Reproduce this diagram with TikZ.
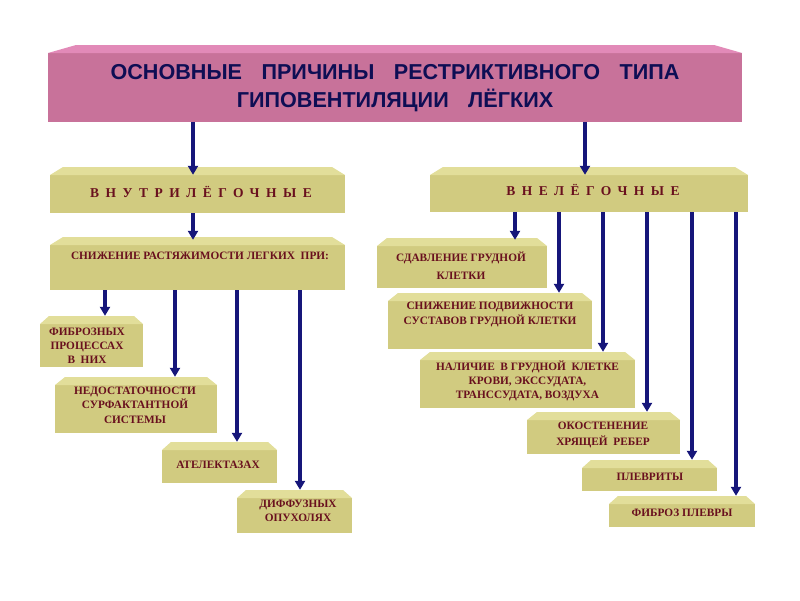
\documentclass[tikz,border=0pt]{standalone}
\usepackage{fontspec}
\setmainfont{Liberation Serif}
\newfontfamily\titlefont{Liberation Sans}
\usetikzlibrary{arrows.meta}
\definecolor{khaki}{RGB}{209,203,128}
\definecolor{khakitop}{RGB}{226,222,154}
\definecolor{rose}{RGB}{200,114,154}
\definecolor{rosetop}{RGB}{226,138,184}
\definecolor{navyc}{RGB}{22,22,122}
\definecolor{maroonc}{RGB}{105,16,30}
\definecolor{titleblue}{RGB}{14,14,84}
\newcommand\wsp{\hspace{0.9em}}
\tikzset{
  boxshape/.style={draw=none, fill=none, inner sep=0pt, rectangle},
  boxtext/.style={font=\bfseries\fontsize{11.3}{14.5}\selectfont, text=maroonc, align=center, inner sep=0pt},
  spaced/.style={font=\bfseries\fontsize{13.5}{15}\selectfont\addfontfeatures{LetterSpace=48}, text=maroonc, inner sep=0pt},
  titletext/.style={font=\titlefont\bfseries\fontsize{21.6}{28}\selectfont, text=titleblue, align=center, inner sep=0pt},
  arr/.style={draw=navyc, line width=3.1pt, -{Triangle[width=10pt,length=9pt]}},
}
% #1 name, #2 x1, #3 y1, #4 x2, #5 y2, #6 bevel width, #7 colour
\newcommand\bevbox[7]{%
  \fill[#7] (#2,#5) -- (#2,#3+8) -- (#4,#3+8) -- (#4,#5) -- cycle;
  \fill[#7top] (#2,#3+8) -- (#2+#6,#3) -- (#4-#6,#3) -- (#4,#3+8) -- cycle;
  \node[boxshape, minimum width={#4-#2}, minimum height={#5-#3}] (#1) at ({(#2+#4)/2},{(#3+#5)/2}) {};
}
\newcommand\boxlabel[5]{% #1 name, #2 x, #3 y, #4 style, #5 text
  \node[#4] (#1) at (#2,#3) {#5};
}
\begin{document}
\begin{tikzpicture}[x=1pt,y=-1pt]
\useasboundingbox[fill=white] (0,0) rectangle (800,600);

% title
\bevbox{title}{48}{45}{742}{122}{28}{rose}
\boxlabel{title-t}{395}{88.5}{titletext}{ОСНОВНЫЕ\wsp ПРИЧИНЫ\wsp РЕСТРИКТИВНОГО\wsp ТИПА\\ГИПОВЕНТИЛЯЦИИ\wsp ЛЁГКИХ}

% level 2
\bevbox{inner}{50}{167}{345}{213}{13}{khaki}
\boxlabel{inner-t}{201}{192}{spaced}{ВНУТРИЛЁГОЧНЫЕ}
\bevbox{outer}{430}{167}{748}{212}{13}{khaki}
\boxlabel{outer-t}{593}{190}{spaced}{ВНЕЛЁГОЧНЫЕ}

% left branch
\bevbox{snizh}{50}{237}{345}{290}{13}{khaki}
\boxlabel{snizh-t}{200}{256}{boxtext}{СНИЖЕНИЕ РАСТЯЖИМОСТИ ЛЕГКИХ~ ПРИ:}
\bevbox{fibr}{40}{316}{143}{367}{9}{khaki}
\boxlabel{fibr-t}{87}{346}{boxtext,font=\bfseries\fontsize{11.3}{14}\selectfont}{ФИБРОЗНЫХ\\ПРОЦЕССАХ\\В~ НИХ}
\bevbox{nedost}{55}{377}{217}{433}{10}{khaki}
\boxlabel{nedost-t}{135}{405}{boxtext}{НЕДОСТАТОЧНОСТИ\\СУРФАКТАНТНОЙ\\СИСТЕМЫ}
\bevbox{atel}{162}{442}{277}{483}{9}{khaki}
\boxlabel{atel-t}{218}{465}{boxtext}{АТЕЛЕКТАЗАХ}
\bevbox{diff}{237}{490}{352}{533}{9}{khaki}
\boxlabel{diff-t}{298}{511}{boxtext}{ДИФФУЗНЫХ\\ОПУХОЛЯХ}

% right branch
\bevbox{sdavl}{377}{238}{547}{288}{10}{khaki}
\boxlabel{sdavl-t}{461}{266}{boxtext,font=\bfseries\fontsize{11.3}{18}\selectfont}{СДАВЛЕНИЕ ГРУДНОЙ\\КЛЕТКИ}
\bevbox{podv}{388}{293}{592}{349}{10}{khaki}
\boxlabel{podv-t}{490}{314.5}{boxtext,font=\bfseries\fontsize{11.3}{15}\selectfont}{СНИЖЕНИЕ ПОДВИЖНОСТИ\\СУСТАВОВ ГРУДНОЙ КЛЕТКИ}
\bevbox{nalich}{420}{352}{635}{408}{10}{khaki}
\boxlabel{nalich-t}{527.5}{381}{boxtext,font=\bfseries\fontsize{11.3}{14}\selectfont}{НАЛИЧИЕ~ В ГРУДНОЙ~ КЛЕТКЕ\\КРОВИ, ЭКССУДАТА,\\ТРАНССУДАТА, ВОЗДУХА}
\bevbox{okost}{527}{412}{680}{454}{10}{khaki}
\boxlabel{okost-t}{603}{435}{boxtext,font=\bfseries\fontsize{11.3}{16}\selectfont}{ОКОСТЕНЕНИЕ\\ХРЯЩЕЙ~ РЕБЕР}
\bevbox{plevr}{582}{460}{717}{491}{9}{khaki}
\boxlabel{plevr-t}{650}{477}{boxtext}{ПЛЕВРИТЫ}
\bevbox{fibrpl}{609}{496}{755}{527}{9}{khaki}
\boxlabel{fibrpl-t}{682}{513}{boxtext}{ФИБРОЗ ПЛЕВРЫ}

% connectors
\draw[arr, shorten >=-8pt] (title.south -| 193,0) -- (inner.north -| 193,0);
\draw[arr, shorten >=-8pt] (title.south -| 585,0) -- (outer.north -| 585,0);
\draw[arr, shorten >=-3pt] (inner.south -| 193,0) -- (snizh.north -| 193,0);
\draw[arr] (snizh.south -| 105,0) -- (fibr.north -| 105,0);
\draw[arr] (snizh.south -| 175,0) -- (nedost.north -| 175,0);
\draw[arr] (snizh.south -| 237,0) -- (atel.north -| 237,0);
\draw[arr] (snizh.south -| 300,0) -- (diff.north -| 300,0);
\draw[arr, shorten >=-2pt] (outer.south -| 515,0) -- (sdavl.north -| 515,0);
\draw[arr] (outer.south -| 559,0) -- (podv.north -| 559,0);
\draw[arr] (outer.south -| 603,0) -- (nalich.north -| 603,0);
\draw[arr] (outer.south -| 647,0) -- (okost.north -| 647,0);
\draw[arr] (outer.south -| 692,0) -- (plevr.north -| 692,0);
\draw[arr] (outer.south -| 736,0) -- (fibrpl.north -| 736,0);
\end{tikzpicture}
\end{document}
